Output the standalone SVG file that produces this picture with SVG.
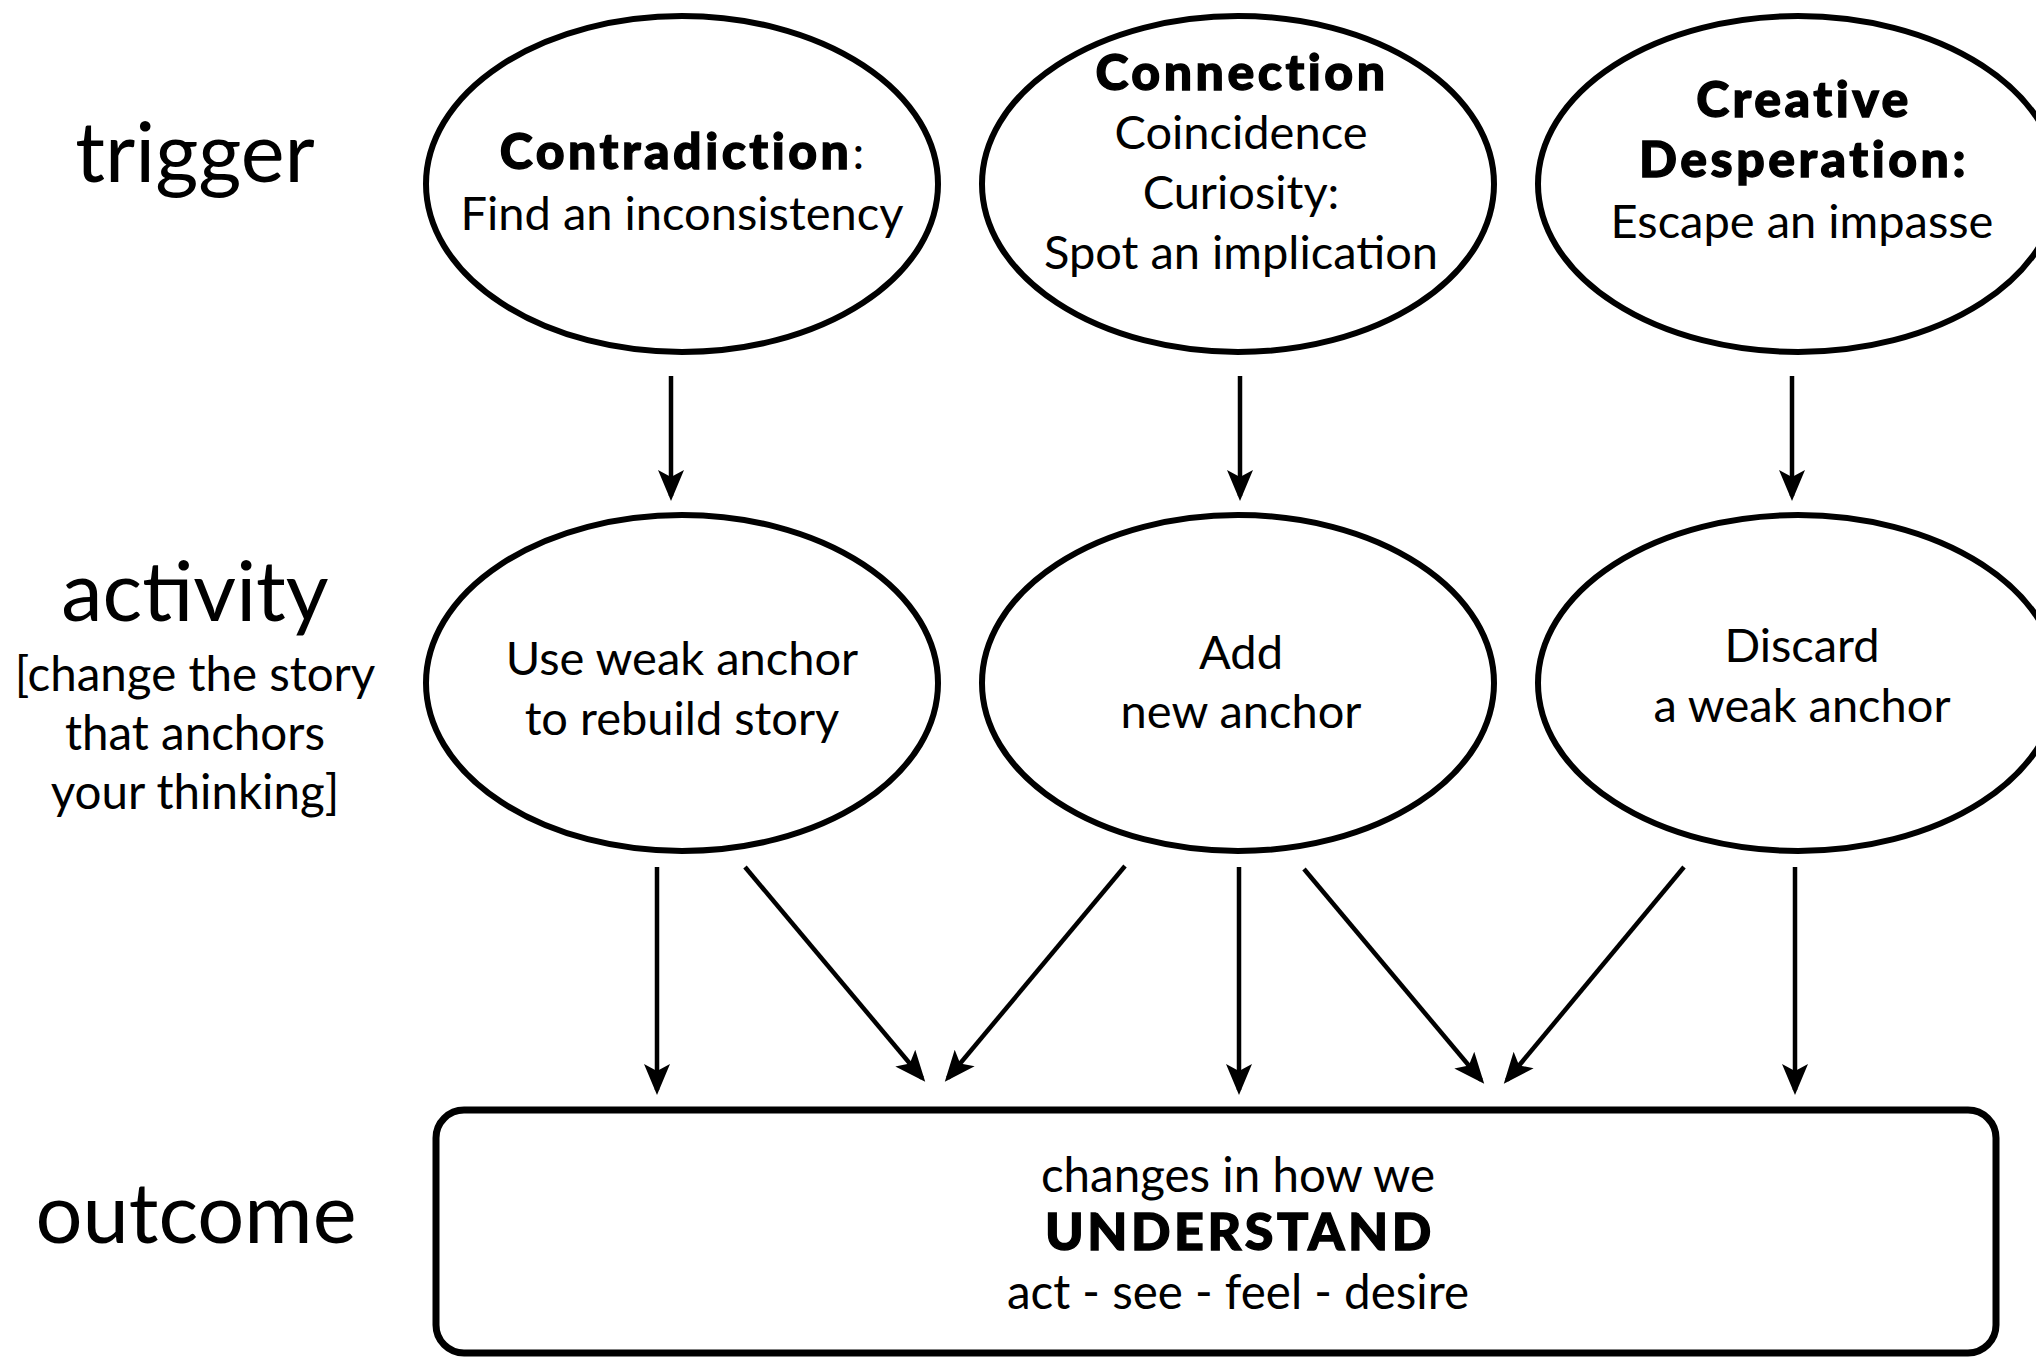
<svg xmlns="http://www.w3.org/2000/svg" width="2036" height="1357" viewBox="0 0 2036 1357">
  <style>
    text { font-family: Lato, "Open Sans", "Liberation Sans", sans-serif; fill: #000; text-anchor: middle; }
    .lane { font-size: 83px; }
    .note { font-size: 47.5px; }
    .t { font-size: 47px; }
    .b { font-size: 50px; font-weight: 900; letter-spacing: 3.5px; stroke: #000; stroke-width: 1.3px; }
    .o { font-size: 47.5px; }
    .ob { font-size: 52px; font-weight: 900; letter-spacing: 3.5px; stroke: #000; stroke-width: 1.3px; }
    .node { fill: #fff; stroke: #000; stroke-width: 6; }
    .box { fill: #fff; stroke: #000; stroke-width: 7; }
    .edge { stroke: #000; stroke-width: 4.5; fill: none; marker-end: url(#arrow); }
  </style>
  <defs>
    <marker id="arrow" markerUnits="userSpaceOnUse" viewBox="-2 -16 36 32" markerWidth="36" markerHeight="32" refX="26" refY="0" orient="auto">
      <path d="M0,-13 L31,0 L0,13 L7,0 Z" fill="#000"/>
    </marker>
  </defs>
  <rect width="2036" height="1357" fill="#fff"/>

  <!-- row labels -->
  <g id="label-trigger"><text class="lane" x="195" y="182">trigger</text></g>
  <g id="label-activity">
    <text class="lane" x="195" y="621">activity</text>
    <text class="note" x="195" y="691">[change the story</text>
    <text class="note" x="195" y="750">that anchors</text>
    <text class="note" x="195" y="809">your thinking]</text>
  </g>
  <g id="label-outcome"><text class="lane" x="196" y="1243">outcome</text></g>

  <!-- trigger row -->
  <g id="trigger-contradiction">
    <ellipse class="node" cx="682" cy="184" rx="256" ry="168"/>
    <text x="682" y="169"><tspan class="b">Contradiction</tspan><tspan class="t">:</tspan></text>
    <text class="t" x="682" y="230">Find an inconsistency</text>
  </g>
  <g id="trigger-connection">
    <ellipse class="node" cx="1238" cy="184" rx="256" ry="168"/>
    <text class="b" x="1242" y="90">Connection</text>
    <text class="t" x="1241" y="149">Coincidence</text>
    <text class="t" x="1241" y="209">Curiosity:</text>
    <text class="t" x="1241" y="269">Spot an implication</text>
  </g>
  <g id="trigger-desperation">
    <ellipse class="node" cx="1798" cy="184" rx="260" ry="168"/>
    <text class="b" x="1804" y="117">Creative</text>
    <text class="b" x="1804" y="177">Desperation:</text>
    <text class="t" x="1802" y="238">Escape an impasse</text>
  </g>

  <!-- activity row -->
  <g id="activity-rebuild">
    <ellipse class="node" cx="682" cy="683" rx="256" ry="168"/>
    <text class="t" x="682" y="675">Use weak anchor</text>
    <text class="t" x="682" y="735">to rebuild story</text>
  </g>
  <g id="activity-add">
    <ellipse class="node" cx="1238" cy="683" rx="256" ry="168"/>
    <text class="t" x="1241" y="669">Add</text>
    <text class="t" x="1241" y="728">new anchor</text>
  </g>
  <g id="activity-discard">
    <ellipse class="node" cx="1798" cy="683" rx="260" ry="168"/>
    <text class="t" x="1802" y="662">Discard</text>
    <text class="t" x="1802" y="722">a weak anchor</text>
  </g>

  <!-- outcome -->
  <g id="outcome-understand">
    <rect class="box" x="436" y="1110" width="1560" height="243" rx="28" ry="28"/>
    <text class="o" x="1238" y="1192">changes in how we</text>
    <text class="ob" x="1240" y="1250">UNDERSTAND</text>
    <text class="o" x="1238" y="1309">act - see - feel - desire</text>
  </g>

  <!-- connectors -->
  <g id="connectors">
    <line class="edge" x1="671" y1="376" x2="671" y2="496"/>
    <line class="edge" x1="1240" y1="376" x2="1240" y2="496"/>
    <line class="edge" x1="1792" y1="376" x2="1792" y2="496"/>

    <line class="edge" x1="657" y1="867" x2="657" y2="1090"/>
    <line class="edge" x1="745" y1="867" x2="922" y2="1078"/>
    <line class="edge" x1="1125" y1="866" x2="948" y2="1078"/>
    <line class="edge" x1="1239" y1="867" x2="1239" y2="1090"/>
    <line class="edge" x1="1304" y1="869" x2="1481" y2="1080"/>
    <line class="edge" x1="1684" y1="867" x2="1507" y2="1080"/>
    <line class="edge" x1="1795" y1="867" x2="1795" y2="1090"/>
  </g>
</svg>
